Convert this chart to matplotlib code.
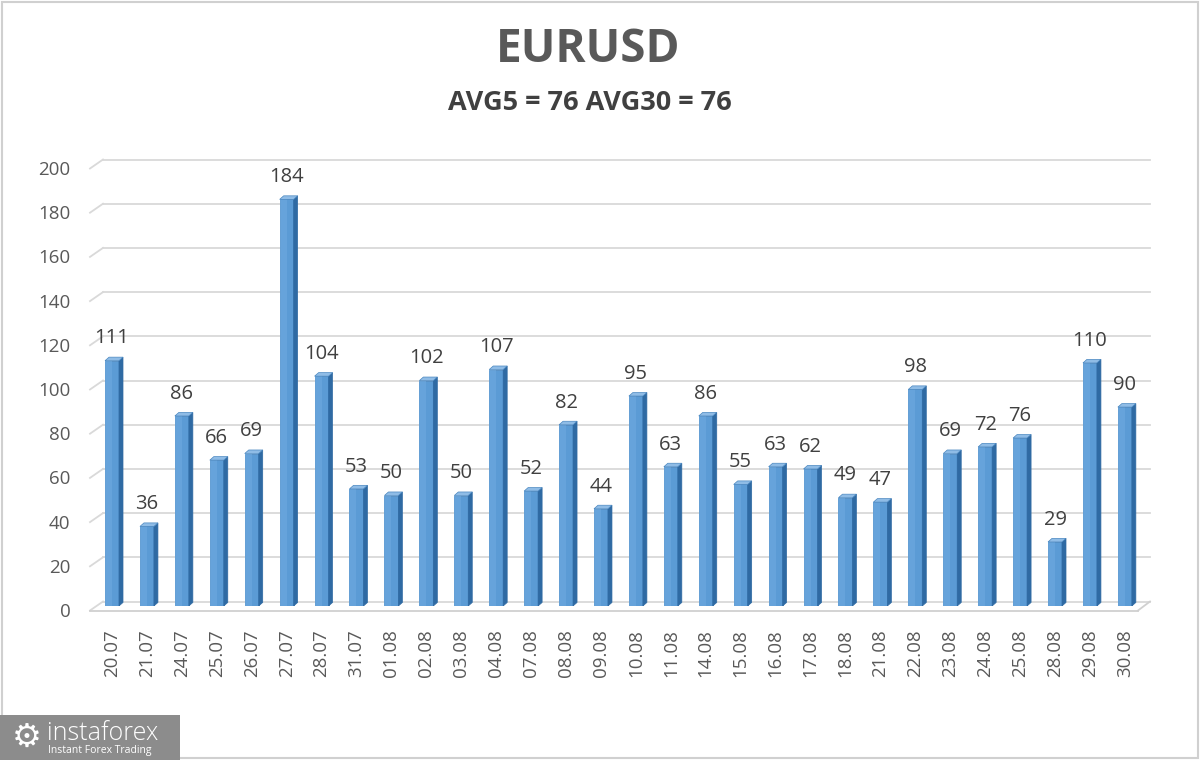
import matplotlib
matplotlib.use("Agg")
import matplotlib.pyplot as plt
from matplotlib.patches import Polygon, Rectangle
from matplotlib.lines import Line2D
from matplotlib.transforms import ScaledTranslation
import numpy as np

dates = ["20.07", "21.07", "24.07", "25.07", "26.07", "27.07", "28.07", "31.07",
         "01.08", "02.08", "03.08", "04.08", "07.08", "08.08", "09.08", "10.08",
         "11.08", "14.08", "15.08", "16.08", "17.08", "18.08", "21.08", "22.08",
         "23.08", "24.08", "25.08", "28.08", "29.08", "30.08"]
values = [111, 36, 86, 66, 69, 184, 104, 53, 50, 102, 50, 107, 52, 82, 44, 95,
          63, 86, 55, 63, 62, 49, 47, 98, 69, 72, 76, 29, 110, 90]
yticks = [0, 20, 40, 60, 80, 100, 120, 140, 160, 180, 200]
title = "EURUSD"
subtitle = "AVG5 = 76 AVG30 = 76"

plt.rcParams['font.family'] = ['Open Sans', 'DejaVu Sans']

fig = plt.figure(figsize=(12, 7.6), dpi=100)
fig.patch.set_facecolor("white")

L, R = 90, 1150
B, T = 606, 164
ax = fig.add_axes([L / 1200, 1 - B / 760, (R - L) / 1200, (B - T) / 760])
ax.set_xlim(-0.63, 29.72)
ax.set_ylim(0, 200)
for s in ax.spines.values():
    s.set_visible(False)
ax.set_facecolor("none")

def px(dx, dy):
    return ScaledTranslation(dx / 100, dy / 100, fig.dpi_scale_trans)

ytr = ax.get_yaxis_transform()
depth_x = 13 / (R - L)
grid_c = "#d9d9d9"
fig.canvas.draw()
for v in yticks:
    p0 = (ytr + px(0, -4.5)).transform((0, v))
    p1 = (ytr + px(0, 4.5)).transform((depth_x, v))
    ax.add_line(Line2D([p0[0], p1[0]], [p0[1], p1[1]], transform=None,
                       color=grid_c, lw=1.3, clip_on=False))
    ax.plot([depth_x, 1], [v, v], color=grid_c, lw=1.3, clip_on=False,
            transform=ytr + px(0, 4.5))
# floor
floor_c = "#d0d0d0"
fr = (1138 - L) / (R - L)
ax.plot([0, fr], [0, 0], color=floor_c, lw=1.3, clip_on=False, transform=ytr + px(0, -4.5))
q0 = (ytr + px(0, -4.5)).transform((fr, 0))
q1 = (ytr + px(0, 4.5)).transform((1, 0))
ax.add_line(Line2D([q0[0], q1[0]], [q0[1], q1[1]], transform=None,
                   color=floor_c, lw=1.3, clip_on=False))

# bars
x = np.arange(len(values))
w = 0.40
dx = 0.115
dy = 1.6
front_c = "#5b9bd5"
side_c = "#2f6aa3"
top_c = "#8fbce6"
ax.bar(x, values, width=w, color=front_c, edgecolor="#4a87c0", linewidth=0.6, zorder=3)
ax.bar(x - w / 4, values, width=w / 2, color="#6faae0", linewidth=0, zorder=3.1, alpha=0.6)
for xi, v in zip(x, values):
    side = Polygon([(xi + w / 2, 0), (xi + w / 2 + dx, dy), (xi + w / 2 + dx, v + dy), (xi + w / 2, v)],
                   closed=True, facecolor=side_c, edgecolor=side_c, lw=0.5, zorder=3)
    top = Polygon([(xi - w / 2, v), (xi + w / 2, v), (xi + w / 2 + dx, v + dy), (xi - w / 2 + dx, v + dy)],
                  closed=True, facecolor=top_c, edgecolor="#4a87c0", lw=0.5, zorder=3.2)
    ax.add_patch(side)
    ax.add_patch(top)
    ax.annotate(str(v), (xi, v), xytext=(0, 16), textcoords="offset points",
                ha="center", va="center", fontsize=14.5, color="#404040", zorder=5)

ax.set_yticks(yticks)
ax.set_yticklabels([str(t) for t in yticks], fontsize=13.5, color="#595959")
ax.tick_params(axis="y", length=0, pad=14)
for lab in ax.get_yticklabels():
    lab.set_transform(lab.get_transform() + px(0, -4))
ax.set_xticks(x)
ax.set_xticklabels(dates, rotation=90, fontsize=13.5, color="#595959")
ax.tick_params(axis="x", length=0, pad=17)

fig.text(588 / 1200, 1 - 50 / 760, title, ha="center", va="center",
         fontsize=33, fontweight="bold", color="#595959")
fig.text(590 / 1200, 1 - 103 / 760, subtitle, ha="center", va="center",
         fontsize=19.5, fontweight="bold", color="#404040")

# frame
fig.patches.append(Rectangle((0.002, 0.003), 0.996, 0.994, transform=fig.transFigure,
                             fill=False, edgecolor="#d0d0d0", lw=1.5))
# watermark
fig.patches.append(Rectangle((0, 0), 180 / 1200, 45 / 760, transform=fig.transFigure,
                             facecolor="#8c8c8c", edgecolor="none", zorder=10))
fig.text(27 / 1200, 1 - 737 / 760, "\u2699", ha="center", va="center", fontsize=24,
         color="white", family=["DejaVu Sans"], zorder=11)
fig.text(47 / 1200, 1 - 733 / 760, "instaforex", ha="left", va="center", fontsize=18,
         color="white", fontweight="light", zorder=11)
fig.text(48 / 1200, 1 - 751 / 760, "Instant Forex Trading", ha="left", va="center",
         fontsize=7.5, color="white", zorder=11)

fig.savefig("out.png", dpi=100, facecolor="white")
